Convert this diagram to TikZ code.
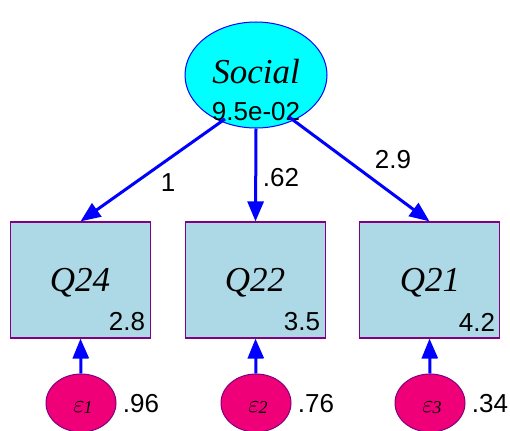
\documentclass[tikz,border=0pt]{standalone}
\usepackage{fontspec}
\setmainfont{Liberation Serif}
\setsansfont{Liberation Sans}
\usetikzlibrary{shapes.geometric,arrows.meta}
\definecolor{boxfill}{RGB}{173,216,230}
\definecolor{errfill}{RGB}{240,0,120}
\definecolor{purp}{RGB}{128,0,128}
\definecolor{cyanfill}{RGB}{0,255,255}
\definecolor{pathblue}{RGB}{0,0,255}
\tikzset{
  latent/.style={ellipse,draw=pathblue,fill=cyanfill,line width=1pt,minimum width=142pt,minimum height=106pt,inner sep=0pt},
  obsbox/.style={rectangle,draw=purp,fill=boxfill,line width=1.2pt,minimum width=140pt,minimum height=116pt,inner sep=0pt},
  errnode/.style={ellipse,draw=purp,fill=errfill,line width=1pt,minimum width=70pt,minimum height=58pt,inner sep=0pt},
  path/.style={draw=pathblue,line width=3pt,-{Triangle[length=20pt,width=16pt]}},
  lbl/.style={font=\sffamily\fontsize{26}{26}\selectfont,inner sep=0pt},
  vname/.style={font=\itshape\fontsize{35}{35}\selectfont,inner sep=0pt},
  errlbl/.style={font=\itshape\fontsize{28}{28}\selectfont,inner sep=0pt}
}
\begin{document}
\begin{tikzpicture}[x=1pt,y=-1pt]
\useasboundingbox (0,0) rectangle (510,430);
\node[latent] (soc) at (256,75) {};
\node[vname] (soctxt) at (256,72) {Social};
\node[lbl] (socvar) at (256,112) {9.5e-02};

\node[obsbox] (q24) at (80.5,280) {};
\node[obsbox] (q22) at (255.5,280) {};
\node[obsbox] (q21) at (429.5,280) {};
\node[vname] (t24) at (80,283) {Q24};
\node[vname] (t22) at (255,283) {Q22};
\node[vname] (t21) at (430,283) {Q21};
\node[lbl] (i24) at (127,322) {2.8};
\node[lbl] (i22) at (302,322) {3.5};
\node[lbl] (i21) at (477,322) {4.2};

\node[errnode] (e1) at (81,403) {};
\node[errnode] (e2) at (256,403) {};
\node[errnode] (e3) at (430,403) {};
\node[errlbl] (et1) at (83,408) {$\varepsilon$\kern-1pt\raisebox{-1pt}{\fontsize{18}{18}\selectfont\itshape 1}};
\node[errlbl] (et2) at (258,408) {$\varepsilon$\kern-1pt\raisebox{-1pt}{\fontsize{18}{18}\selectfont\itshape 2}};
\node[errlbl] (et3) at (432,408) {$\varepsilon$\kern-1pt\raisebox{-1pt}{\fontsize{18}{18}\selectfont\itshape 3}};
\node[lbl] (v1) at (141,404) {.96};
\node[lbl] (v2) at (316,404) {.76};
\node[lbl] (v3) at (490,404) {.34};

\coordinate (s1) at (225,119);
\coordinate (s3) at (289,117);
\path[path] (s1) -- (q24.north);
\path[path] (soc.south) -- (q22.north);
\path[path] (s3) -- (q21.north);
\node[lbl] (l1) at (168,183) {1};
\node[lbl] (l2) at (281,178) {.62};
\node[lbl] (l3) at (393,160) {2.9};

\path[path] (e1.north) -- (q24.south);
\path[path] (e2.north) -- (q22.south);
\path[path] (e3.north) -- (q21.south);
\end{tikzpicture}
\end{document}
